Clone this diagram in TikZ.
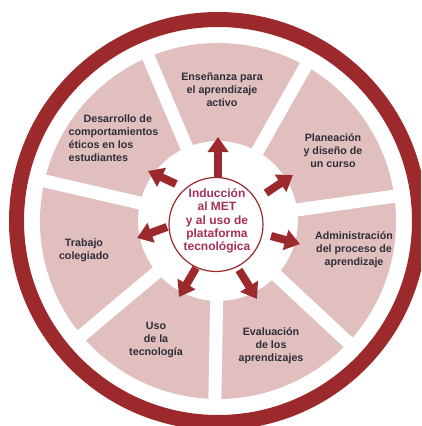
\documentclass[tikz,border=0pt]{standalone}
\usepackage{fontspec}
\setmainfont{Liberation Sans}
\usetikzlibrary{arrows.meta}
\definecolor{ringred}{HTML}{9C2A2C}
\definecolor{sectpink}{HTML}{E1BFBF}
\definecolor{labeltxt}{HTML}{2E2E38}
\definecolor{centertxt}{HTML}{A6305A}
\begin{document}
\begin{tikzpicture}[x=1pt,y=1pt,
  lbl/.style={font=\fontsize{10.7}{13}\selectfont\bfseries, text=labeltxt, align=center, inner sep=0pt},
  ctr/.style={font=\fontsize{12}{13.3}\selectfont\bfseries, text=centertxt, align=center, inner sep=0pt},
  gapline/.style={white, line width=13pt},
  barrow/.style={ringred, line width=8pt, -{Triangle[width=20pt,length=15pt]}}]
\useasboundingbox (-218,-205) rectangle (203,221);
\clip (-218,-205) rectangle (203,221);
\fill[white] (-218,-205) rectangle (203,221);
\coordinate (O) at (0,0);
% outer ring
\draw[ringred, line width=15pt] (O) circle[radius=201.5];
% pink sectors
\fill[sectpink, even odd rule] (O) circle[radius=178] (O) circle[radius=80];
\foreach \a in {113,60.5,8,-43,-91,-140,167} \draw[gapline] (\a:70) -- (\a:190);
% hub
\node[circle, draw=ringred, line width=1.2pt, fill=white, minimum size=94pt, inner sep=0pt] (hub) at (-2,-3.5) {};
\node[ctr] (hubtxt) at (-1,0) {Inducción\\al MET\\y al uso de\\plataforma\\tecnológica};
% labels
\node[lbl] (ens) at (4,131) {Enseñanza para\\el aprendizaje\\activo};
\node[lbl] (pla) at (115,70) {Planeación\\y diseño de\\un curso};
\node[lbl] (adm) at (136,-29) {Administración\\del proceso de\\aprendizaje};
\node[lbl] (eva) at (53,-125) {Evaluación\\de los\\aprendizajes};
\node[lbl] (uso) at (-62,-119) {Uso\\de la\\tecnología};
\node[lbl] (tra) at (-134,-29) {Trabajo\\colegiado};
\node[lbl, align=left] (des) at (-104.5,83) {\hspace*{15pt}Desarrollo de\\comportamientos\\éticos en los\\estudiantes};
% arrows
\coordinate (s1) at (0,43);    \coordinate (e1) at (0,84);
\coordinate (s2) at (48,28);   \coordinate (e2) at (75,46);
\coordinate (s3) at (53,-15);  \coordinate (e3) at (82,-23);
\coordinate (s4) at (21,-49);  \coordinate (e4) at (39,-78);
\coordinate (s5) at (-22,-47); \coordinate (e5) at (-39,-76);
\coordinate (s6) at (-51,-6);  \coordinate (e6) at (-81,-17);
\coordinate (s7) at (-42,37);  \coordinate (e7) at (-70,50);
\foreach \i in {1,...,7} \draw[barrow] (s\i) -- (e\i);
\end{tikzpicture}
\end{document}
